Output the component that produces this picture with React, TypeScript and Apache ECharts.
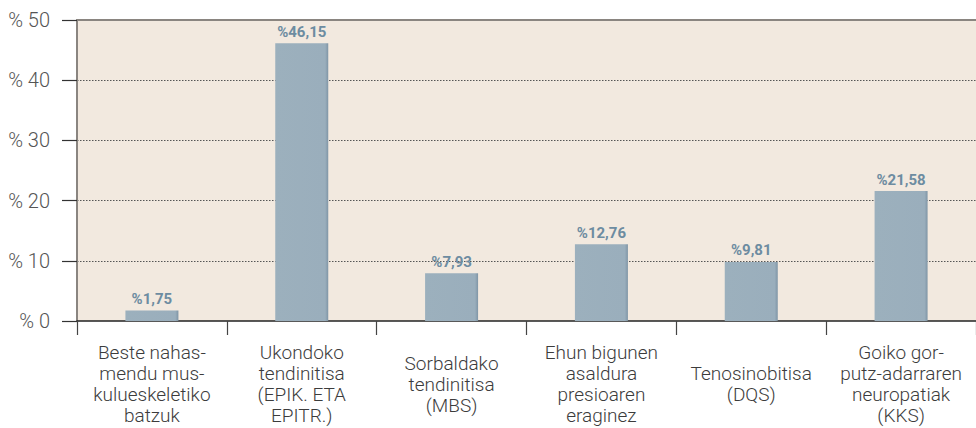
import React, { useEffect, useRef } from "react";
import * as echarts from "echarts";

const categories = [
  "Beste nahas-\nmendu mus-\nkulueskeletiko\nbatzuk",
  "Ukondoko\ntendinitisa\n(EPIK. ETA\nEPITR.)",
  "Sorbaldako\ntendinitisa\n(MBS)",
  "Ehun bigunen\nasaldura\npresioaren\neraginez",
  "Tenosinobitisa\n(DQS)",
  "Goiko gor-\nputz-adarraren\nneuropatiak\n(KKS)",
];
const values = [1.75, 46.15, 7.93, 12.76, 9.81, 21.58];
const yTicks = [0, 10, 20, 30, 40, 50];

export default function App() {
  const ref = useRef<HTMLDivElement>(null);
  useEffect(() => {
    const chart = echarts.init(ref.current!, null, { renderer: "svg" });
    const font = "Roboto, 'DejaVu Sans', sans-serif";
    chart.setOption({
      animation: false,
      grid: {
        left: 77,
        right: -8,
        top: 20,
        bottom: 107,
        show: true,
        backgroundColor: "#f2e9df",
        borderWidth: 0,
      },
      xAxis: [
        {
          type: "category",
          data: categories,
          position: "bottom",
          axisLine: { lineStyle: { color: "#222", width: 1.5 } },
          axisTick: {
            show: true,
            length: 14,
            lineStyle: { color: "#444", width: 1.2 },
          },
          axisLabel: {
            interval: 0,
            margin: 63,
            verticalAlign: "middle",
            color: "#3c3c3c",
            fontFamily: font,
            fontWeight: 300,
            fontSize: 19,
            lineHeight: 21,
          },
        },
        {
          type: "category",
          data: categories,
          position: "top",
          axisLine: { lineStyle: { color: "#8a8580", width: 2 } },
          axisTick: { show: false },
          axisLabel: { show: false },
        },
      ],
      yAxis: {
        type: "value",
        min: 0,
        max: 50,
        interval: 10,
        axisLine: { show: true, lineStyle: { color: "#8a8580", width: 2 } },
        axisTick: { show: true, length: 15, lineStyle: { color: "#333", width: 1.2 } },
        axisLabel: {
          margin: 27,
          color: "#555",
          fontFamily: font,
          fontWeight: 300,
          fontSize: 20,
          formatter: (v: number) => (yTicks.includes(v) ? "% " + v : ""),
        },
        splitLine: {
          show: true,
          lineStyle: {
            color: ["transparent", "#555", "#555", "#555", "#555", "transparent"],
            type: [1.5, 1.5],
            width: 1,
          },
        },
      },
      series: [
        {
          type: "bar",
          data: values,
          barWidth: 53,
          itemStyle: {
            color: new echarts.graphic.LinearGradient(1, 0, 0, 0, [
              { offset: 0, color: "#7f95a6" },
              { offset: 0.06, color: "#9aaebc" },
              { offset: 1, color: "#9cb0bd" },
            ]),
          },
          label: {
            show: true,
            position: "top",
            distance: 4,
            color: "#6d8ca1",
            fontFamily: font,
            fontWeight: "bold",
            fontSize: 15,
            formatter: (p: any) => "%" + String(p.value).replace(".", ","),
          },
        },
      ],
    });
    return () => chart.dispose();
  }, []);
  return <div ref={ref} style={{ width: 976, height: 428, position: "absolute", left: 0, top: 0 }} />;
}
